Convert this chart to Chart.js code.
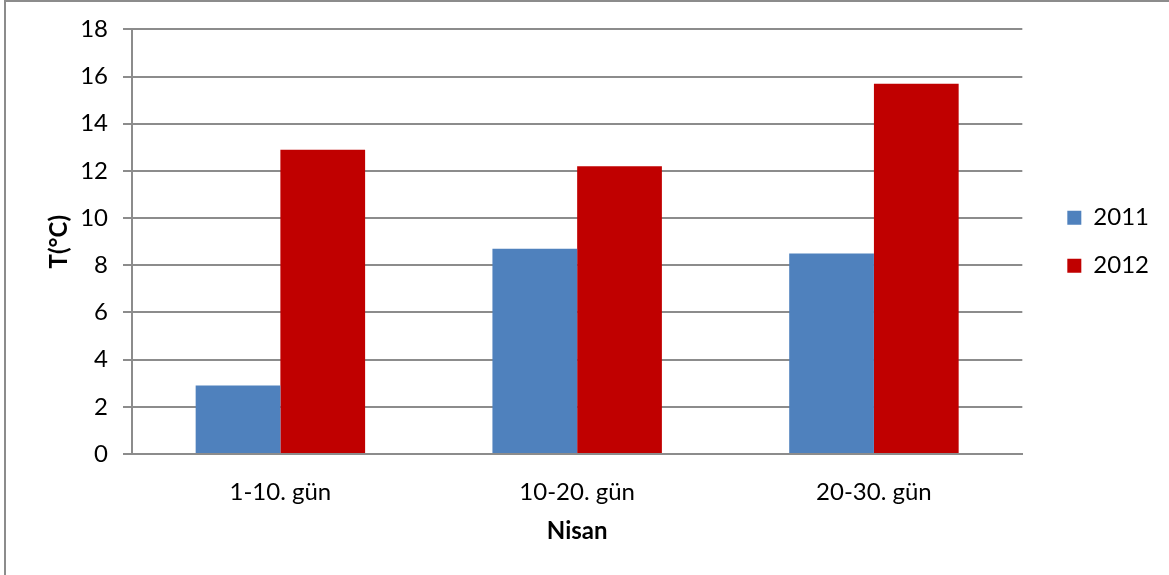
<!DOCTYPE html>
<html>
<head>
<meta charset="utf-8">
<script src="https://cdn.jsdelivr.net/npm/chart.js@4/dist/chart.umd.min.js"></script>
<style>
  html, body { margin: 0; padding: 0; background: #fff; }
  #wrap { width: 1169px; height: 575px; }
</style>
</head>
<body>
<div id="wrap"><canvas id="c" width="1169" height="575"></canvas></div>
<script>
// April temperature averages per ten-day period
const categories = ['1-10. gün', '10-20. gün', '20-30. gün'];
const values2011 = [2.9, 8.7, 8.5];
const values2012 = [12.9, 12.2, 15.7];
const seriesNames = ['2011', '2012'];
const yTitle = 'T(°C)';
const xTitle = 'Nisan';

const FONT = 'Lato, "Open Sans", sans-serif';
const FS = 24;
const GRID = '#8c8c8c';

// Thin frame around the chart (top and left edges)
const framePlugin = {
  id: 'frame',
  beforeDraw(chart) {
    const ctx = chart.ctx;
    ctx.save();
    ctx.strokeStyle = '#8c8c8c';
    ctx.lineWidth = 2;
    ctx.beginPath();
    ctx.moveTo(5, 580);
    ctx.lineTo(5, 1);
    ctx.lineTo(1175, 1);
    ctx.stroke();
    ctx.restore();
  }
};

new Chart(document.getElementById('c'), {
  type: 'bar',
  data: {
    labels: categories,
    datasets: [
      { label: seriesNames[0], data: values2011, backgroundColor: '#4F81BD' },
      { label: seriesNames[1], data: values2012, backgroundColor: '#C00000' }
    ]
  },
  options: {
    responsive: false,
    animation: false,
    datasets: { bar: { categoryPercentage: 0.571, barPercentage: 1.0 } },
    layout: { padding: { left: 5, top: 29, right: 10, bottom: 29 } },
    plugins: {
      legend: {
        position: 'right',
        fullSize: false,
        labels: {
          font: { family: FONT, size: FS },
          color: '#000',
          boxWidth: 14,
          boxHeight: 14,
          padding: 24
        }
      },
      tooltip: { enabled: false }
    },
    scales: {
      x: {
        afterFit(scale) { scale.height = 92; },
        grid: { display: false },
        border: { display: true, color: GRID, width: 2 },
        ticks: { font: { family: FONT, size: FS }, color: '#000', padding: 16 },
        title: { display: true, text: xTitle, font: { family: FONT, size: FS, weight: 'bold' }, color: '#000', padding: { top: 10, bottom: 0 } }
      },
      y: {
        min: 0, max: 18,
        afterFit(scale) { scale.width = 127; },
        ticks: { stepSize: 2, font: { family: FONT, size: FS }, color: '#000', padding: 15 },
        grid: { color: GRID, lineWidth: 2, tickLength: 9 },
        border: { display: true, color: GRID, width: 2 },
        title: { display: true, text: yTitle, font: { family: FONT, size: FS, weight: 'bold' }, color: '#000', padding: { top: 40, bottom: 0 } }
      },
      // empty spacer between the plot and the legend
      gap: {
        type: 'linear',
        position: 'right',
        display: true,
        afterFit(scale) { scale.width = 21; },
        ticks: { display: false },
        grid: { display: false, drawTicks: false },
        border: { display: false }
      }
    }
  },
  plugins: [framePlugin]
});
</script>
</body>
</html>
